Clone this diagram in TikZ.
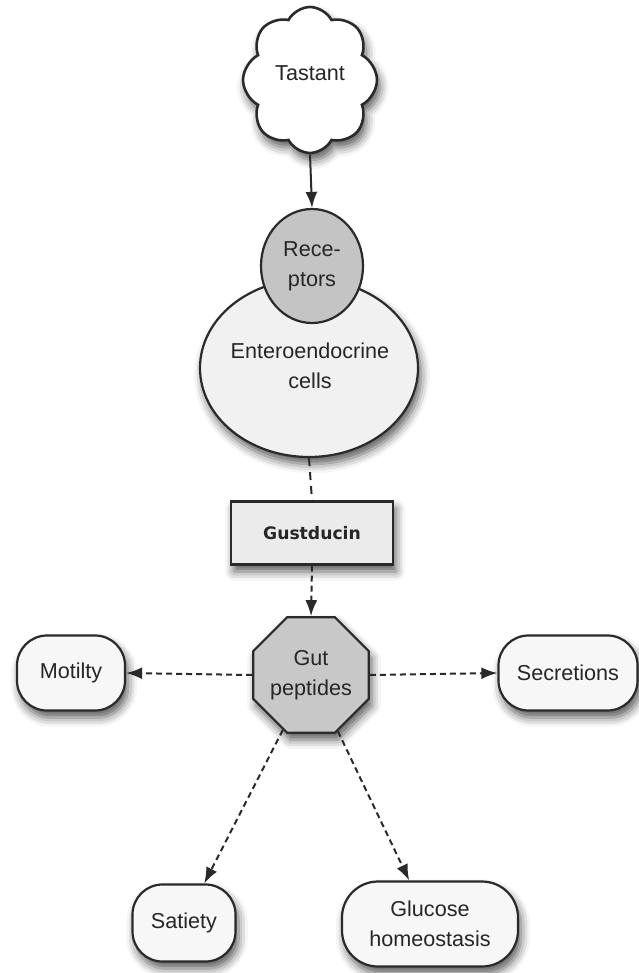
\documentclass[tikz,border=0pt]{standalone}
\usepackage{fontspec}
\setmainfont{Liberation Sans}
\newfontfamily\boldfont{DejaVu Sans}
\usetikzlibrary{shapes.geometric,shapes.symbols,arrows.meta,shadows.blur}
\definecolor{edgec}{HTML}{2A2A2A}
\definecolor{textc}{HTML}{262626}
\definecolor{recfill}{HTML}{C4C4C4}
\definecolor{cellfill}{HTML}{F1F1F1}
\definecolor{gutfill}{HTML}{C8C8C8}
\definecolor{gusfill}{HTML}{EBEBEB}
\definecolor{boxfill}{HTML}{F7F7F7}
\tikzset{
  shade/.style={blur shadow={shadow xshift=1.5pt, shadow yshift=-3.5pt, shadow blur radius=4.5pt, shadow opacity=65}},
  base/.style={draw=edgec, text=textc, line width=1.1pt, font=\fontsize{10.8}{15}\selectfont, align=center, inner sep=0pt},
  outbox/.style={base, shade, fill=boxfill, rounded corners=15pt},
  solidarrow/.style={draw=edgec, line width=1pt, -{Latex[length=8pt,width=6pt]}},
  dasharrow/.style={draw=edgec, line width=1pt, dash pattern=on 3pt off 2pt, -{Latex[length=8pt,width=6pt]}},
  longdash/.style={draw=edgec, line width=1pt, dash pattern=on 4pt off 3pt},
}
\begin{document}
\begin{tikzpicture}[x=0.5pt,y=-0.5pt]
\useasboundingbox (0,0) rectangle (638,973);
% cloud
\node[base, shade, fill=white, cloud, cloud puffs=8, cloud puff arc=125, aspect=0.93,
      minimum width=67pt, minimum height=73pt, line width=1.3pt] (tastant) at (310,80) {\raisebox{7pt}{Tastant}};
% enteroendocrine cells
\node[base, shade, fill=cellfill, ellipse, minimum width=109pt, minimum height=89pt] (cells) at (309,368) {};
\node[font=\fontsize{10.8}{15}\selectfont, text=textc, align=center, inner sep=0pt] (cellstext) at (310,366) {Enteroendocrine\\cells};
% receptors
\node[base, fill=recfill, ellipse, minimum width=51pt, minimum height=57pt] (rec) at (312,266) {Rece-\\ptors};
% gustducin
\node[base, shade, fill=gusfill, minimum width=81pt, minimum height=31.5pt, font=\boldfont\bfseries\fontsize{8.6}{10}\selectfont] (gus) at (312,533) {Gustducin};
% gut peptides
\node[base, shade, fill=gutfill, regular polygon, regular polygon sides=8, minimum size=58pt] (gut) at (311,675) {Gut\\peptides};
% outputs
\node[outbox, minimum width=54pt, minimum height=37.5pt] (mot) at (71,673) {Motilty};
\node[outbox, minimum width=69.5pt, minimum height=37.5pt] (sec) at (568,673) {Secretions};
\node[outbox, minimum width=51.5pt, minimum height=38.5pt] (sat) at (184,923) {Satiety};
\node[outbox, minimum width=88pt, minimum height=42.5pt, rounded corners=18pt] (glu) at (430,924) {Glucose\\homeostasis};
% connectors
\draw[solidarrow] (tastant.south) -- (rec.north);
\draw[longdash] (cells.south) -- (gus.north);
\draw[dasharrow] (gus.south) -- (gut.north);
\draw[dasharrow] (gut.west) -- (mot.east);
\draw[dasharrow] (gut.east) -- (sec.west);
\draw[dasharrow] (gut) -- (sat);
\draw[dasharrow] (gut) -- (glu);
\end{tikzpicture}
\end{document}
